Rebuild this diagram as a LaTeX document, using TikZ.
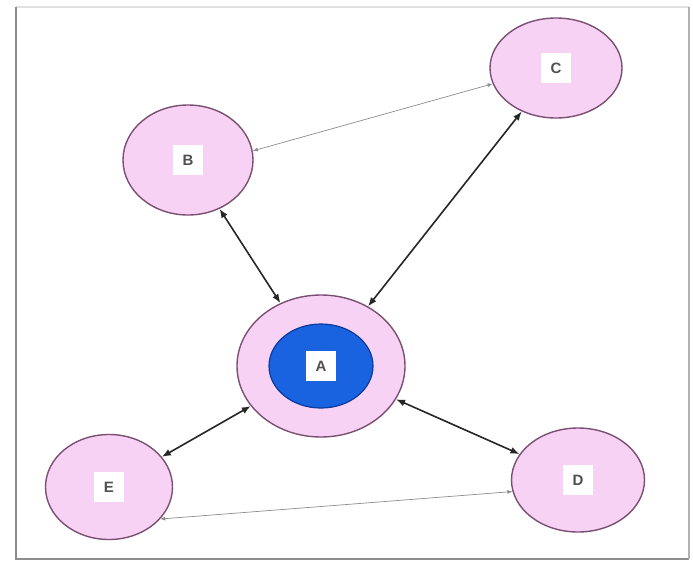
\documentclass[tikz,border=0pt]{standalone}
\usepackage{fontspec}
\setmainfont{Liberation Sans}
\usetikzlibrary{shapes.geometric,arrows.meta}
\definecolor{pinkfill}{HTML}{F8D2F4}
\definecolor{rimcol}{HTML}{7A4F72}
\definecolor{bluefill}{HTML}{1A63E0}
\definecolor{bluerim}{HTML}{0A3A9A}
\definecolor{labelcol}{HTML}{505050}
\tikzset{
  peer/.style={ellipse, draw=rimcol, line width=1.4pt, fill=pinkfill, minimum width=#1},
  lbl/.style={fill=white, text=labelcol, font=\bfseries\fontsize{15}{15}\selectfont, minimum width=30pt, minimum height=30pt, inner sep=0pt},
  strong/.style={{Latex[length=9pt,width=7pt]}-{Latex[length=9pt,width=7pt]}, line width=1.6pt, draw=black!85},
  weak/.style={{Latex[length=5pt,width=4pt]}-{Latex[length=5pt,width=4pt]}, line width=0.7pt, draw=black!45},
}
\begin{document}
\begin{tikzpicture}[x=1pt,y=-1pt]
\useasboundingbox (0,0) rectangle (693,565);
% frame
\draw[line width=1.5pt, draw=black!12] (16,7) -- (689,7);
\draw[line width=2pt, draw=black!45] (16,7) -- (16,559) -- (689,559);
\draw[line width=2pt, draw=black!30] (689,7) -- (689,559);
% nodes
\node[peer=130pt, minimum height=110pt] (B) at (188,160) {};
\node[peer=132pt, minimum height=100pt] (C) at (556,68) {};
\node[peer=168pt, minimum height=142pt] (A) at (321,366) {};
\node[ellipse, draw=bluerim, line width=1.2pt, fill=bluefill, minimum width=104pt, minimum height=84pt] (Ain) at (321,366) {};
\node[peer=127pt, minimum height=105pt] (E) at (109,487) {};
\node[peer=133pt, minimum height=104pt] (D) at (578,480) {};
\node[lbl] (lb) at (B) {B};
\node[lbl] (lc) at (C) {C};
\node[lbl] (la) at (A) {A};
\node[lbl] (le) at (E) {E};
\node[lbl] (ld) at (D) {D};
% edges
\draw[strong] (B) -- (A);
\draw[strong] (C) -- (A);
\draw[strong] (E) -- (A);
\draw[strong] (D) -- (A);
\draw[weak] (B.8) -- (C.-166);
\draw[weak] (E.-32) -- (D.-170);
\end{tikzpicture}
\end{document}
